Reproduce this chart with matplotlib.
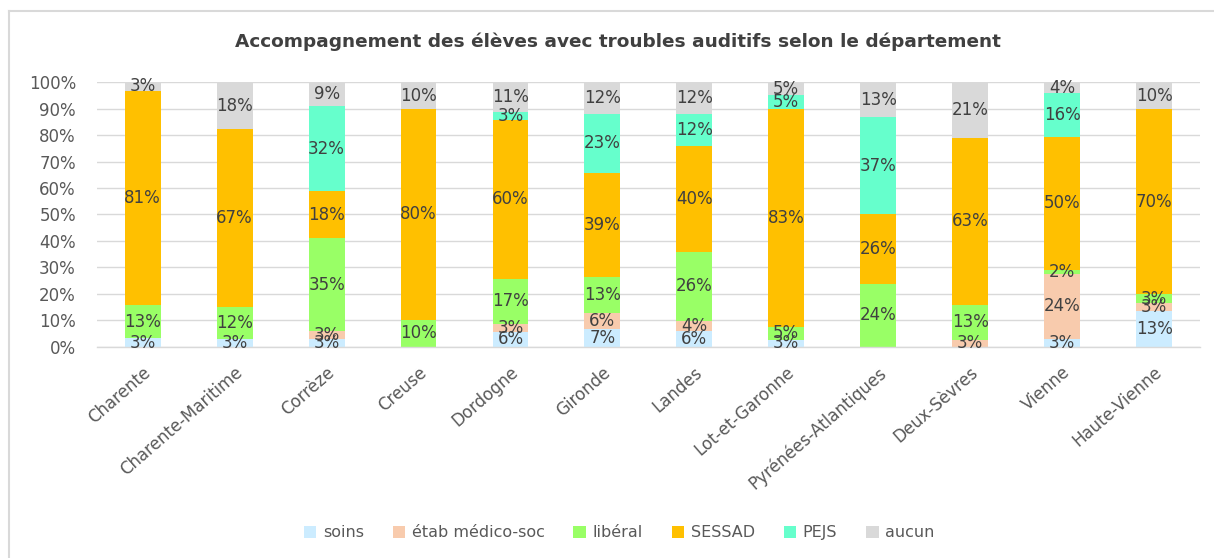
import matplotlib
matplotlib.use("Agg")
import matplotlib.pyplot as plt
from matplotlib.lines import Line2D
from matplotlib.ticker import FuncFormatter
import numpy as np

departements = ["Charente", "Charente-Maritime", "Corrèze", "Creuse", "Dordogne",
                "Gironde", "Landes", "Lot-et-Garonne", "Pyrénées-Atlantiques",
                "Deux-Sèvres", "Vienne", "Haute-Vienne"]

soins = [3.1, 2.9, 2.9, 0, 5.7, 6.6, 5.9, 2.6, 0, 0, 3.0, 13.4]
etab = [0, 0, 2.9, 0, 2.9, 6.3, 4.0, 0, 0, 2.6, 24.4, 3.1]
liberal = [12.6, 12.1, 35.3, 10.0, 17.1, 13.3, 26.0, 4.8, 23.7, 13.2, 1.7, 3.3]
sessad = [81.2, 67.2, 17.6, 80.0, 60.0, 39.4, 40.0, 82.6, 26.3, 63.2, 50.4, 70.1]
pejs = [0, 0, 32.4, 0, 2.9, 22.6, 12.0, 5.3, 36.8, 0, 16.3, 0]
aucun = [3.1, 17.8, 8.8, 10.0, 11.4, 11.8, 12.0, 4.7, 13.2, 21.0, 4.2, 10.1]

series = [("soins", soins, "#CCECFF"),
          ("étab médico-soc", etab, "#F8CBAD"),
          ("libéral", liberal, "#99FF66"),
          ("SESSAD", sessad, "#FFC000"),
          ("PEJS", pejs, "#66FFCC"),
          ("aucun", aucun, "#D9D9D9")]

TXT = "#404040"
AX = "#595959"

fig = plt.figure(figsize=(12.14, 5.58), dpi=100)
ax = fig.add_axes([0.0797, 0.3787, 0.9088, 0.4738])

x = np.arange(len(departements))
bottom = np.zeros(len(departements))
for name, vals, col in series:
    vals = np.array(vals, dtype=float)
    bars = ax.bar(x, vals, 0.39, bottom=bottom, color=col, label=name, zorder=2)
    labels = ["%.0f%%" % v if v > 0 else "" for v in vals]
    ax.bar_label(bars, labels=labels, label_type="center", color=TXT, fontsize=12)
    bottom += vals

ax.set_xlim(-0.5, len(departements) - 0.5)
ax.set_ylim(0, 100)
ax.set_yticks(range(0, 101, 10))
ax.yaxis.set_major_formatter(FuncFormatter(lambda v, p: "%d%%" % v))
ax.grid(axis="y", color="#D9D9D9", lw=1.0, zorder=0)
ax.set_axisbelow(True)
for s in ["top", "right", "left"]:
    ax.spines[s].set_visible(False)
ax.spines["bottom"].set_color("#D9D9D9")
ax.spines["bottom"].set_linewidth(1.0)
ax.tick_params(axis="both", length=0, colors=AX, labelsize=12)
ax.tick_params(axis="y", pad=15)
ax.set_xticks(x)
ax.set_xticklabels(departements, rotation=41, ha="right", rotation_mode="anchor")
ax.tick_params(axis="x", pad=12)

fig.text(0.509, 0.925, "Accompagnement des élèves avec troubles auditifs selon le département",
         ha="center", va="center", fontsize=13.3, fontweight="bold", color=TXT)

fig.legend(loc="center", bbox_to_anchor=(0.51, 0.045), ncol=6, frameon=False,
           fontsize=11.5, labelcolor=AX, handlelength=0.8, handleheight=0.8,
           handletextpad=0.4, columnspacing=1.8)

# cadre du graphique (coupé à droite et en bas)
fig.add_artist(Line2D([9 / 1214, 1], [1 - 11 / 558, 1 - 11 / 558],
                      color="#D9D9D9", lw=1.5, transform=fig.transFigure))
fig.add_artist(Line2D([9 / 1214, 9 / 1214], [0, 1 - 11 / 558],
                      color="#D9D9D9", lw=1.5, transform=fig.transFigure))

fig.savefig("out.png", dpi=100)
